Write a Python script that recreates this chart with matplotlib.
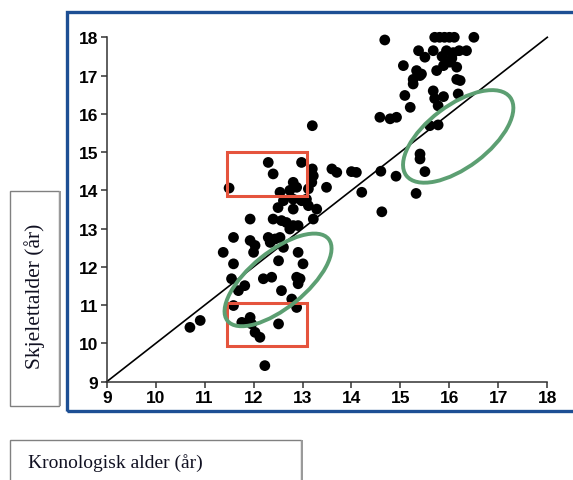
import matplotlib.pyplot as plt
from matplotlib.patches import Rectangle, Ellipse
from matplotlib.transforms import ScaledTranslation

# kronologisk alder (x) og skjelettalder (y)
kron_alder = [
    14.68, 15.7, 15.8, 15.9, 16.0, 16.1, 16.5,
    15.37, 15.67, 15.94, 16.08, 16.35, 16.2,
    15.5, 15.85, 16.05,
    15.06, 15.33, 15.43, 15.74, 15.88, 16.01, 16.15,
    15.26, 15.4, 15.26, 16.15, 16.22,
    15.09, 15.67, 15.7, 15.88, 16.18,
    15.2, 15.77,
    14.58, 14.79, 14.92,
    15.6, 15.77, 13.2,
    15.4, 15.4, 15.5,
    14.6, 14.91, 15.32, 14.21, 14.62,
    14.0, 14.1, 13.6, 13.7, 13.49,
    12.3, 12.98, 12.4, 11.5,
    13.2, 13.22, 13.19, 13.12,
    12.81, 12.88, 12.74, 12.54,
    12.61, 12.81, 12.98, 13.08,
    12.5, 12.81, 13.12, 13.29,
    13.22,
    12.4, 12.57, 12.67, 12.81, 12.74, 12.91,
    11.93,
    11.59, 11.93, 12.03, 12.0,
    12.3, 12.44, 12.54, 12.34, 12.61,
    11.38, 11.59, 12.51, 12.91, 13.01,
    11.55, 12.2, 12.37, 12.88, 12.95, 12.91,
    11.82, 11.69, 12.57, 12.78, 12.88, 11.59,
    11.93, 11.76, 11.96, 12.03, 12.13, 12.51,
    10.91, 10.7, 12.23,
]
skjelett_alder = [
    17.93, 18.0, 18.0, 18.0, 18.0, 18.0, 18.0,
    17.65, 17.65, 17.65, 17.6, 17.65, 17.65,
    17.48, 17.5, 17.45,
    17.26, 17.13, 17.04, 17.13, 17.26, 17.35, 17.22,
    16.9, 17.0, 16.78, 16.9, 16.87,
    16.48, 16.6, 16.4, 16.45, 16.52,
    16.17, 16.21,
    15.91, 15.87, 15.91,
    15.69, 15.71, 15.69,
    14.95, 14.82, 14.49,
    14.5, 14.37, 13.92, 13.95, 13.44,
    14.49, 14.47, 14.56, 14.47, 14.08,
    14.73, 14.73, 14.43, 14.06,
    14.56, 14.38, 14.21, 14.04,
    14.21, 14.08, 14.0, 13.95,
    13.73, 13.77, 13.73, 13.77,
    13.55, 13.51, 13.6, 13.51,
    13.25,
    13.25, 13.21, 13.16, 13.08, 12.99, 13.08,
    13.25,
    12.77, 12.69, 12.56, 12.38,
    12.77, 12.73, 12.77, 12.64, 12.51,
    12.38, 12.08, 12.16, 12.38, 12.08,
    11.69, 11.69, 11.73, 11.73, 11.69, 11.56,
    11.51, 11.38, 11.38, 11.16, 10.94, 10.99,
    10.68, 10.55, 10.51, 10.29, 10.16, 10.51,
    10.6, 10.42, 9.42,
]
ticks = list(range(9, 19))

# markeringer: røde bokser (x0, y0, x1, y1) og grønne ellipser (sentrum)
bokser = [(11.45, 13.86, 13.1, 15.0), (11.45, 9.92, 13.1, 11.06)]
ellipse_sentre = [(12.5, 11.66), (16.18, 15.41)]

W, H = 573, 481
fig = plt.figure(figsize=(W / 100, H / 100), dpi=100)


def px(x0, y0, x1, y1):
    # pikselrektangel (topp-venstre origo) -> figurbrøk
    return (x0 / W, 1 - y1 / H), (x1 - x0) / W, (y1 - y0) / H


# blå ramme rundt diagrammet
xy, w, h = px(66.5, 12.5, 575, 412)
fig.patches.append(Rectangle(xy, w, h, transform=fig.transFigure, fill=False,
                             edgecolor="#1d4f94", linewidth=2.4))

ax = fig.add_axes([106.7 / W, 1 - 382.7 / H, (547.3 - 106.7) / W, (382.7 - 38.3) / H])
ax.set_xlim(9, 18)
ax.set_ylim(9, 18)
for s in ["top", "right"]:
    ax.spines[s].set_visible(False)
for s in ["left", "bottom"]:
    ax.spines[s].set_linewidth(1.1)
    ax.spines[s].set_color("#333333")
ax.set_xticks(ticks)
ax.set_yticks(ticks)
ax.tick_params(direction="out", length=4.5, width=1.1, color="#333333", pad=1.5)
for lab in ax.get_xticklabels() + ax.get_yticklabels():
    lab.set_fontweight("bold")
    lab.set_fontsize(12.5)
    lab.set_fontfamily("Liberation Sans")

ax.plot([9, 18], [9, 18], color="black", linewidth=1.2, clip_on=False)
ax.scatter(kron_alder, skjelett_alder, s=60, color="black", edgecolors="none",
           zorder=3, clip_on=False)

for x0, y0, x1, y1 in bokser:
    ax.add_patch(Rectangle((x0, y0), x1 - x0, y1 - y0, fill=False,
                           edgecolor="#e5543d", linewidth=2.2, zorder=4))

for (cx, cy), hh, ang in zip(ellipse_sentre, [0.56, 0.62], [39, 37]):
    tr = fig.dpi_scale_trans + ScaledTranslation(cx, cy, ax.transData)
    ax.add_patch(Ellipse((0, 0), 1.30, hh, angle=ang, transform=tr, fill=False,
                         edgecolor="#5c9f72", linewidth=2.8, zorder=4))

# tekstbokser for aksetitler
for (x0, y0, x1, y1) in [(9.5, 192, 59, 407), (9.5, 440.5, 301, 490)]:
    xy, w, h = px(x0, y0, x1, y1)
    fig.patches.append(Rectangle(xy, w, h, transform=fig.transFigure, fill=False,
                                 edgecolor="#808080", linewidth=1.0))
    xy, w, h = px(x1, y0, x1 + 1.5, y1)
    fig.patches.append(Rectangle(xy, w, h, transform=fig.transFigure, fill=True,
                                 facecolor="#9a9a9a", edgecolor="none"))

fig.text(35 / W, 1 - 296 / H, "Skjelettalder (år)", rotation=90, ha="center",
         va="center", family="Liberation Serif", fontsize=15.5, color="#111122")
fig.text(28 / W, 1 - 463 / H, "Kronologisk alder (år)", ha="left", va="center",
         family="Liberation Serif", fontsize=14, color="#111122")

fig.savefig("out.png", dpi=100)
